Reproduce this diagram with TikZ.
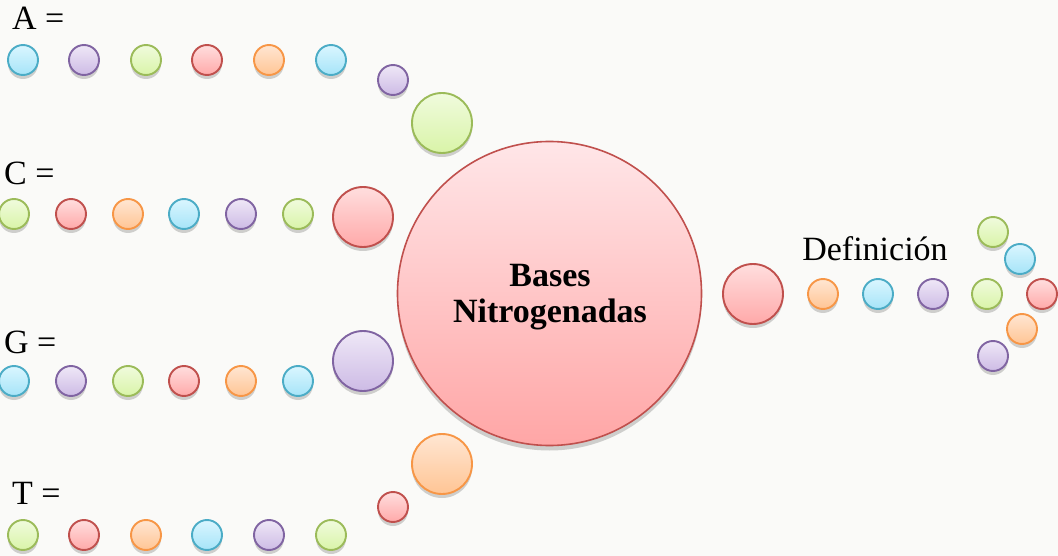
\documentclass[tikz,border=0pt]{standalone}
\usepackage{fontspec}
\setmainfont{Liberation Serif}
\usetikzlibrary{shadows}

% palette: border / top of gradient / bottom of gradient
\definecolor{bgcol}{HTML}{FAFAF8}
\definecolor{cyanBd}{HTML}{4BACC6}\definecolor{cyanTp}{HTML}{DAF6FF}\definecolor{cyanBt}{HTML}{A6E4F8}
\definecolor{violBd}{HTML}{8064A2}\definecolor{violTp}{HTML}{EFE8F7}\definecolor{violBt}{HTML}{CDBBE5}
\definecolor{grenBd}{HTML}{9BBB59}\definecolor{grenTp}{HTML}{F0FBDD}\definecolor{grenBt}{HTML}{D9F4A8}
\definecolor{redBd}{HTML}{C0504D}\definecolor{redTp}{HTML}{FFDEDE}\definecolor{redBt}{HTML}{FFA9A9}
\definecolor{orngBd}{HTML}{F79646}\definecolor{orngTp}{HTML}{FFE6D2}\definecolor{orngBt}{HTML}{FFC595}
\definecolor{hubTp}{HTML}{FFE6E8}\definecolor{hubBt}{HTML}{FFA6A6}

\tikzset{
  bead/.style={circle, inner sep=0pt, minimum size=30pt, line width=1.9pt,
    drop shadow={shadow xshift=0pt, shadow yshift=-4pt, opacity=0.25, fill=black!70}},
  bigbead/.style={bead, minimum size=60pt},
  cyanbead/.style={draw=cyanBd, top color=cyanTp, bottom color=cyanBt},
  violetbead/.style={draw=violBd, top color=violTp, bottom color=violBt},
  greenbead/.style={draw=grenBd, top color=grenTp, bottom color=grenBt},
  redbead/.style={draw=redBd, top color=redTp, bottom color=redBt},
  orangebead/.style={draw=orngBd, top color=orngTp, bottom color=orngBt},
  label/.style={anchor=base west, inner sep=0pt, font=\fontsize{34}{40}\selectfont},
  hub/.style={circle, inner sep=0pt, minimum size=304pt, line width=1.6pt,
    draw=redBd, top color=hubTp, bottom color=hubBt,
    drop shadow={shadow xshift=0pt, shadow yshift=-5pt, opacity=0.25, fill=black!70}},
  hubtext/.style={align=center, inner sep=0pt, font=\fontsize{34}{36}\selectfont\bfseries}
}

\begin{document}
\begin{tikzpicture}[x=1pt, y=-1pt]
  \fill[bgcol] (0,0) rectangle (1058,556);
  \useasboundingbox (0,0) rectangle (1058,556);

  % central node and its title
  \node[hub] (hub) at (549.5,293.5) {};
  \node[hubtext] (title) at (550,297) {Bases\\Nitrogenadas};

  % row A
  \node[label] (labA) at (12,30) {A =};
  \foreach \x/\c [count=\i] in {23/cyan,84/violet,146/green,207/red,269/orange,331/cyan}
    \node[bead,\c bead] (a\i) at (\x,60) {};
  \node[bead,violetbead] (a7) at (393,80) {};
  \node[bigbead,greenbead] (a8) at (442,123) {};

  % row C
  \node[label] (labC) at (4,185) {C =};
  \foreach \x/\c [count=\i] in {14/green,71/red,128/orange,184/cyan,241/violet,298/green}
    \node[bead,\c bead] (c\i) at (\x,214) {};
  \node[bigbead,redbead] (c7) at (363,217) {};

  % row G
  \node[label] (labG) at (4,353) {G =};
  \foreach \x/\c [count=\i] in {14/cyan,71/violet,128/green,184/red,241/orange,298/cyan}
    \node[bead,\c bead] (g\i) at (\x,381) {};
  \node[bigbead,violetbead] (g7) at (363,361) {};

  % row T
  \node[label] (labT) at (12,504) {T =};
  \foreach \x/\c [count=\i] in {23/green,84/red,146/orange,207/cyan,269/violet,331/green}
    \node[bead,\c bead] (t\i) at (\x,535) {};
  \node[bead,redbead] (t7) at (393,507) {};
  \node[bigbead,orangebead] (t8) at (442,464) {};

  % definition branch
  \node[bigbead,redbead] (d0) at (753,294) {};
  \node[anchor=base, inner sep=0pt, font=\fontsize{34}{40}\selectfont] (def) at (875,261) {Definición};
  \foreach \x/\c [count=\i] in {823/orange,878/cyan,933/violet,987/green,1042/red}
    \node[bead,\c bead] (d\i) at (\x,294) {};
  \node[bead,greenbead] (e1) at (993,232) {};
  \node[bead,cyanbead] (e2) at (1020,259) {};
  \node[bead,orangebead] (e3) at (1022,329) {};
  \node[bead,violetbead] (e4) at (993,356) {};
\end{tikzpicture}
\end{document}
